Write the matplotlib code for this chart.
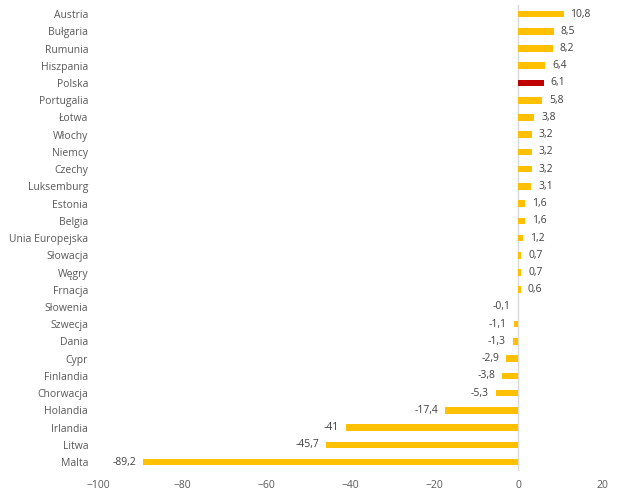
import matplotlib.pyplot as plt

countries = ['Austria', 'Bułgaria', 'Rumunia', 'Hiszpania', 'Polska', 'Portugalia',
             'Łotwa', 'Włochy', 'Niemcy', 'Czechy', 'Luksemburg', 'Estonia', 'Belgia',
             'Unia Europejska', 'Słowacja', 'Węgry', 'Frnacja', 'Słowenia', 'Szwecja',
             'Dania', 'Cypr', 'Finlandia', 'Chorwacja', 'Holandia', 'Irlandia', 'Litwa',
             'Malta']
values = [10.8, 8.5, 8.2, 6.4, 6.1, 5.8, 3.8, 3.2, 3.2, 3.2, 3.1, 1.6, 1.6, 1.2,
          0.7, 0.7, 0.6, -0.1, -1.1, -1.3, -2.9, -3.8, -5.3, -17.4, -41, -45.7, -89.2]
highlight = 'Polska'

plt.rcParams['font.family'] = ['Open Sans', 'DejaVu Sans']

fig = plt.figure(figsize=(6.24, 4.97), dpi=100)
ax = fig.add_axes([0.157, 0.053, 0.808, 0.936])

colors = ['#C00000' if c == highlight else '#FFC000' for c in countries]
pos = list(range(len(countries)))
ax.barh(pos, values, height=0.38, color=colors, zorder=2)
ax.axvline(0, color='#D9D9D9', lw=1, zorder=1)

for y, v in zip(pos, values):
    txt = f'{v:g}'.replace('.', ',')
    if v >= 0:
        ax.annotate(txt, (v, y), xytext=(5, 0), textcoords='offset points',
                    ha='left', va='center', fontsize=7.5, color='#404040')
    else:
        ax.annotate(txt, (v, y), xytext=(-5, 0), textcoords='offset points',
                    ha='right', va='center', fontsize=7.5, color='#404040')

ax.set_xlim(-100, 20)
ax.set_xticks(range(-100, 21, 20))
ax.set_ylim(len(countries) - 0.5, -0.5)
ax.set_yticks(pos)
ax.set_yticklabels(countries)
ax.tick_params(length=0, labelsize=7.5, colors='#595959')
ax.tick_params(axis='x', pad=7)
ax.tick_params(axis='y', pad=7)
for s in ax.spines.values():
    s.set_visible(False)

fig.savefig('out.png', dpi=100)
